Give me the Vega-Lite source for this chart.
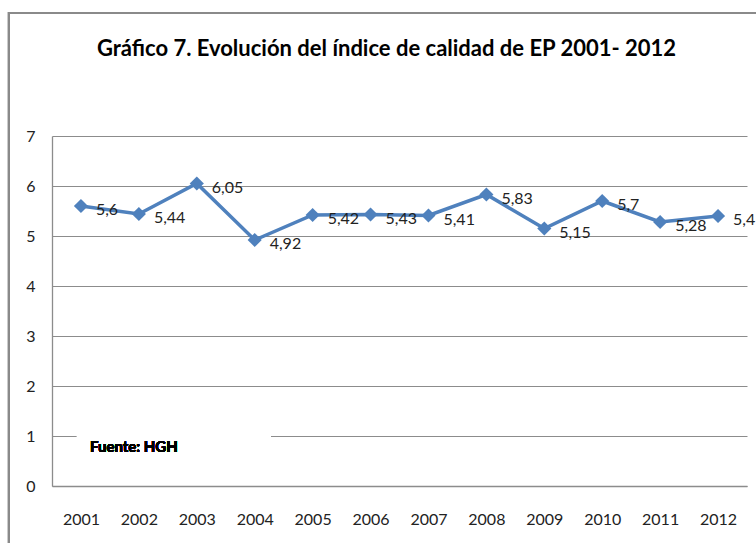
{
  "$schema": "https://vega.github.io/schema/vega-lite/v6.json",
  "width": 695,
  "height": 350,
  "autosize": {"type": "none"},
  "padding": {"left": 52, "top": 136, "right": 9, "bottom": 57},
  "background": "white",
  "title": {
    "text": "Gráfico 7. Evolución del índice de calidad de EP 2001- 2012",
    "font": "Lato",
    "fontSize": 22,
    "fontWeight": "bold",
    "color": "#000000",
    "anchor": "middle",
    "dx": -13,
    "offset": -49
  },
  "config": {
    "view": {"stroke": null},
    "axis": {
      "labelFont": "Lato",
      "labelFontSize": 16,
      "labelColor": "#222222",
      "ticks": false,
      "domainColor": "#8c8c8c",
      "domainWidth": 1.3,
      "gridColor": "#8c8c8c",
      "gridWidth": 1,
      "title": null
    }
  },
  "data": {
    "values": [
      {"year": "2001", "value": 5.6, "label": "5,6"},
      {"year": "2002", "value": 5.44, "label": "5,44"},
      {"year": "2003", "value": 6.05, "label": "6,05"},
      {"year": "2004", "value": 4.92, "label": "4,92"},
      {"year": "2005", "value": 5.42, "label": "5,42"},
      {"year": "2006", "value": 5.43, "label": "5,43"},
      {"year": "2007", "value": 5.41, "label": "5,41"},
      {"year": "2008", "value": 5.83, "label": "5,83"},
      {"year": "2009", "value": 5.15, "label": "5,15"},
      {"year": "2010", "value": 5.7, "label": "5,7"},
      {"year": "2011", "value": 5.28, "label": "5,28"},
      {"year": "2012", "value": 5.4, "label": "5,4"}
    ]
  },
  "encoding": {
    "x": {
      "field": "year",
      "type": "ordinal",
      "scale": {"type": "point", "padding": 0.5},
      "axis": {"labelAngle": 0, "labelPadding": 25, "domain": true}
    },
    "y": {
      "field": "value",
      "type": "quantitative",
      "scale": {"domain": [0, 7], "nice": false},
      "axis": {"values": [0, 1, 2, 3, 4, 5, 6, 7], "labelPadding": 17, "grid": true}
    }
  },
  "layer": [
    {
      "mark": {"type": "rect", "fill": null, "stroke": "#8a8a8a", "strokeWidth": 2, "clip": false, "xOffset": -72, "x2Offset": 60, "yOffset": 80, "y2Offset": -123},
      "encoding": {
        "x": {"datum": "2001"},
        "x2": {"datum": "2012"},
        "y": {"datum": 0},
        "y2": {"datum": 7}
      }
    },
    {
      "mark": {"type": "rect", "fill": "white", "stroke": null, "xOffset": -4, "x2Offset": 16},
      "encoding": {
        "x": {"datum": "2001"},
        "x2": {"datum": "2004"},
        "y": {"datum": 0.7},
        "y2": {"datum": 1.15}
      }
    },
    {
      "mark": {"type": "text", "text": "Fuente: HGH", "font": "Lato", "fontSize": 15, "fontWeight": "bold", "align": "left", "baseline": "middle", "dx": 9, "color": "#000000"},
      "encoding": {
        "x": {"datum": "2001"},
        "y": {"datum": 0.78}
      }
    },
    {
      "mark": {"type": "line", "color": "#4F81BD", "strokeWidth": 3.5}
    },
    {
      "mark": {"type": "point", "shape": "diamond", "filled": true, "color": "#4F81BD", "size": 200, "opacity": 1}
    },
    {
      "mark": {"type": "text", "font": "Lato", "fontSize": 16, "align": "left", "baseline": "middle", "dx": 15, "dy": 4, "color": "#222222", "clip": false},
      "encoding": {"text": {"field": "label"}}
    }
  ]
}
